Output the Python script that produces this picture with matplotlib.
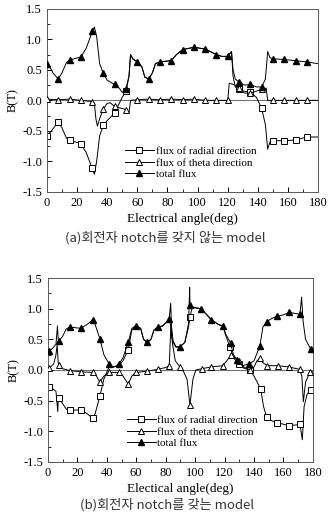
import matplotlib
matplotlib.use("Agg")
import matplotlib.pyplot as plt
import numpy as np

plt.rcParams['font.family'] = ['Liberation Serif', 'DejaVu Serif']
plt.rcParams['mathtext.fontset'] = 'stix'

# ---- (a) model without rotor notch ----
a_tot_x = [0, 2, 4, 7.5, 10, 13, 15, 22.5, 26, 29, 30, 31.5, 33, 35, 37.5, 40, 42, 45, 48, 50,
           52.5, 54.5, 55.5, 57, 60, 63, 65, 67.5, 70, 72, 75, 82.5, 86, 90, 97.5, 105, 110,
           112.5, 116, 120, 122.5, 123.5, 125, 127.5, 131, 135, 139, 142.5, 145, 146.5, 148,
           150, 157.5, 165, 172.5, 180]
a_tot_y = [0.60, 0.55, 0.45, 0.35, 0.45, 0.62, 0.66, 0.71, 0.85, 1.05, 1.13, 1.20, 1.05, 0.60,
           0.44, 0.33, 0.30, 0.26, 0.20, 0.13, 0.19, 0.40, 0.75, 0.68, 0.63, 0.55, 0.38, 0.35,
           0.45, 0.60, 0.63, 0.65, 0.75, 0.83, 0.87, 0.84, 0.78, 0.75, 0.72, 0.72, 0.80, 0.50,
           0.35, 0.30, 0.25, 0.26, 0.22, 0.22, 0.35, 0.80, 0.70, 0.68, 0.67, 0.65, 0.63, 0.60]
a_tot_mk = [0, 7.5, 15, 22.5, 30, 37.5, 45, 52.5, 60, 67.5, 75, 82.5, 90, 97.5, 105, 112.5,
            120, 127.5, 135, 142.5, 150, 157.5, 165, 172.5]

a_rad_x = [0, 3, 7.5, 10, 13, 15, 22.5, 26, 30, 31.5, 33, 35, 37.5, 40, 42.5, 45, 48, 50, 52.5,
           54.5, 55.5, 57, 60, 63, 65, 67.5, 70, 72, 75, 82.5, 86, 90, 97.5, 105, 110, 112.5,
           116, 120, 122.5, 123.5, 125, 127.5, 131, 135, 139, 142.5, 145, 146.5, 148, 150,
           157.5, 165, 172.5, 180]
a_rad_y = [-0.58, -0.50, -0.35, -0.45, -0.62, -0.65, -0.71, -0.85, -1.11, -1.21, -1.00, -0.58,
           -0.41, -0.33, -0.27, -0.20, -0.05, 0.05, 0.15, 0.40, 0.75, 0.68, 0.63, 0.55, 0.38,
           0.35, 0.45, 0.60, 0.63, 0.65, 0.75, 0.83, 0.87, 0.84, 0.78, 0.75, 0.72, 0.72, 0.80,
           0.40, 0.22, 0.18, 0.15, 0.13, 0.05, -0.13, -0.40, -0.80, -0.68, -0.66, -0.66, -0.65,
           -0.60, -0.60]
a_rad_mk = [0, 7.5, 15, 22.5, 30, 37.5, 45, 52.5, 127.5, 135, 142.5, 150, 157.5, 165, 172.5]

a_th_x = [0, 7.5, 15, 22.5, 30, 31.5, 32.5, 33.5, 35, 37.5, 40, 42, 45, 48, 52.5, 54.5, 55.5,
          60, 67.5, 75, 82.5, 90, 97.5, 105, 112.5, 120, 121, 124, 127.5, 131, 135, 139, 142.5,
          145.5, 146.5, 150, 157.5, 165, 172.5, 180]
a_th_y = [0.02, 0.01, 0.02, 0.00, -0.02, -0.05, -0.30, -0.42, -0.30, -0.14, -0.05, -0.04, -0.10,
          -0.12, -0.15, -0.20, 0.00, 0.01, 0.02, 0.01, 0.02, 0.01, 0.02, 0.00, 0.00, 0.00, 0.28,
          0.26, 0.20, 0.12, 0.12, 0.15, 0.18, 0.20, 0.00, 0.00, 0.00, 0.00, 0.00, 0.00]
a_th_mk = [0, 7.5, 15, 22.5, 30, 37.5, 45, 52.5, 60, 67.5, 75, 82.5, 90, 97.5, 105, 112.5,
           120, 127.5, 135, 142.5, 150, 157.5, 165, 172.5]

# ---- (b) model with rotor notch ----
b_tot_x = [0, 0.9, 3, 5.5, 6.5, 7, 7.5, 10, 12.5, 15, 22.5, 27, 30.4, 32, 35.3, 38, 41.6, 44,
           46, 48.4, 51, 54.6, 57, 59.8, 63, 65, 67.5, 70, 72, 74.5, 78, 82.4, 83.4, 84, 85, 87,
           89.7, 93, 95.5, 96.3, 96.5, 98, 104, 108, 111, 116, 119, 120.5, 124.1, 126, 128.6,
           132, 136.8, 140, 144, 146, 148.6, 152, 155.8, 160, 164, 171.2, 172.3, 173.3, 175,
           178.5, 180]
b_tot_y = [0.28, 0.31, 0.35, 0.42, 0.72, 0.50, 0.47, 0.55, 0.67, 0.70, 0.68, 0.75, 0.82, 0.75,
           0.51, 0.25, 0.10, 0.05, 0.06, 0.10, 0.20, 0.45, 0.68, 0.72, 0.68, 0.50, 0.45, 0.50,
           0.65, 0.70, 0.72, 0.83, 1.09, 0.70, 0.48, 0.38, 0.38, 0.45, 0.75, 1.35, 1.06, 1.03,
           1.00, 0.90, 0.82, 0.74, 0.72, 0.60, 0.44, 0.25, 0.16, 0.07, 0.10, 0.15, 0.39, 0.70,
           0.79, 0.84, 0.88, 0.90, 0.94, 0.91, 1.19, 0.80, 0.50, 0.34, 0.33]
b_tot_mk = [0.9, 7.5, 15, 22.5, 30.4, 35.3, 41.6, 48.4, 54.6, 59.8, 67.5, 74.5, 82.4, 89.7,
            96.5, 104, 111, 119, 124.1, 128.6, 136.8, 144, 148.6, 155.8, 164, 171.2, 178.5]

b_rad_x = [0, 0.9, 3, 5.5, 6.7, 7, 7.5, 10, 12.5, 15, 22.5, 27, 30.4, 32, 35.3, 38, 41.6, 44,
           46, 48.4, 51, 54.6, 57, 59.8, 63, 65, 67.5, 70, 72, 74.5, 78, 82.4, 83.4, 84, 85, 87,
           89.7, 93, 95.5, 96.5, 98, 104, 108, 111, 116, 119, 120.5, 123.6, 126, 129.8, 133,
           137.2, 140, 144.5, 146.5, 148.6, 152, 155.8, 163.8, 171.2, 172.8, 174, 176, 178.5, 180]
b_rad_y = [-0.26, -0.27, -0.30, -0.35, -0.68, -0.50, -0.46, -0.55, -0.64, -0.66, -0.65, -0.72,
           -0.79, -0.72, -0.43, -0.15, 0.05, 0.04, 0.06, 0.08, 0.15, 0.33, 0.65, 0.72, 0.68,
           0.50, 0.45, 0.50, 0.65, 0.70, 0.72, 0.82, 0.75, 0.55, 0.45, 0.37, 0.38, 0.45, 0.70,
           0.87, 1.02, 1.00, 0.90, 0.82, 0.74, 0.72, 0.58, 0.38, 0.20, 0.09, 0.03, 0.00, -0.10,
           -0.31, -0.60, -0.77, -0.83, -0.86, -0.91, -0.89, -1.14, -0.60, -0.40, -0.32, -0.30]
b_rad_mk = [0.9, 7.5, 15, 22.5, 30.4, 35.3, 54.6, 96.5, 123.6, 129.8, 137.2, 144.5, 148.6,
            155.8, 163.8, 171.2, 178.5]

b_th_x = [0, 0.9, 4, 5.5, 6.3, 7, 7.5, 10, 15, 22.5, 30.4, 33, 35.3, 38, 41.6, 48.4, 51, 54.6,
          57, 59.8, 67.5, 74.5, 80, 82.4, 83.6, 84.5, 86.5, 89.7, 92, 94.5, 96.5, 98.5, 100.5,
          104.4, 111, 118.8, 121.5, 124.3, 127, 129.8, 133, 137.2, 140, 142, 144, 146, 149, 156,
          163.6, 171, 172.5, 173.5, 175, 178, 180]
b_th_y = [0.02, 0.03, 0.10, 0.25, 0.41, 0.12, 0.08, 0.02, -0.01, -0.03, -0.04, -0.10, -0.20,
          -0.10, -0.04, -0.04, -0.10, -0.23, -0.10, -0.04, -0.02, 0.01, 0.04, 0.07, 0.75, 0.45,
          0.15, 0.05, -0.02, -0.15, -0.57, -0.15, 0.00, 0.02, 0.05, 0.07, 0.15, 0.24, 0.20,
          0.14, 0.05, 0.00, 0.05, 0.15, 0.19, 0.12, 0.07, 0.07, 0.05, 0.01, -0.10, -0.52, -0.20,
          -0.03, -0.03]
b_th_mk = [0.9, 7.5, 15, 22.5, 30.4, 35.3, 41.6, 48.4, 54.6, 59.8, 67.5, 74.5, 82.4, 89.7,
           96.5, 104.4, 111, 118.8, 124.3, 129.8, 137.2, 144, 149, 156, 163.6, 171, 178]

labels = ['flux of radial direction', 'flux of theta direction', 'total flux']


def idx(xs, marks):
    """Return indices of xs that carry a marker."""
    return [i for i, v in enumerate(xs) if v in marks]


def draw(ax, rad, th, tot, xlabel, legpos):
    ax.axhline(0, color='0.45', lw=0.8, zorder=1)
    ax.plot(rad[0], rad[1], '-s', color='k', lw=0.7, ms=4.2, mfc='white', mec='k', mew=0.7,
            markevery=idx(rad[0], rad[2]), label=labels[0], zorder=2)
    ax.plot(th[0], th[1], '-^', color='k', lw=0.7, ms=4.8, mfc='white', mec='k', mew=0.7,
            markevery=idx(th[0], th[2]), label=labels[1], zorder=3)
    ax.plot(tot[0], tot[1], '-^', color='k', lw=0.7, ms=4.8, mfc='k', mec='k',
            markevery=idx(tot[0], tot[2]), label=labels[2], zorder=4)
    ax.set_xlim(0, 180)
    ax.set_ylim(-1.5, 1.5)
    ax.set_xticks(np.arange(0, 181, 20))
    ax.set_yticks([-1.5, -1.0, -0.5, 0.0, 0.5, 1.0, 1.5])
    ax.set_yticklabels(['-1.5', '-1.0', '-0.5', '0.0', '0.5', '1.0', '1.5'])
    ax.set_xticks(np.arange(0, 181, 10), minor=True)
    ax.set_yticks(np.arange(-1.5, 1.51, 0.25), minor=True)
    ax.tick_params(which='both', direction='in', top=False, right=False, labelsize=9)
    ax.tick_params(which='major', length=3.5, width=0.7)
    ax.tick_params(which='minor', length=2, width=0.6)
    for s in ax.spines.values():
        s.set_linewidth(0.7)
        s.set_color('0.35')
    ax.set_xlabel(xlabel, fontsize=9.5, labelpad=3)
    ax.set_ylabel('B(T)', fontsize=9, labelpad=2)
    ax.legend(loc='upper left', bbox_to_anchor=legpos, bbox_transform=fig.transFigure,
              frameon=False, fontsize=8, handlelength=2.6, handletextpad=0.15,
              labelspacing=0.15, borderpad=0, borderaxespad=0)


fig = plt.figure(figsize=(3.28, 5.16), dpi=100)
ax1 = fig.add_axes([0.143, 0.628, 0.827, 0.355])
ax2 = fig.add_axes([0.146, 0.105, 0.808, 0.356])

draw(ax1, (a_rad_x, a_rad_y, a_rad_mk), (a_th_x, a_th_y, a_th_mk), (a_tot_x, a_tot_y, a_tot_mk),
     'Electrical angle(deg)', (0.381, 0.716))
draw(ax2, (b_rad_x, b_rad_y, b_rad_mk), (b_th_x, b_th_y, b_th_mk), (b_tot_x, b_tot_y, b_tot_mk),
     'Electical angle(deg)', (0.387, 0.195))

kfont = ['Noto Sans CJK KR', 'DejaVu Sans']
fig.text(0.505, 1 - 238 / 516, '(a)회전자 notch를 갖지 않는 model', ha='center', va='center',
         fontsize=9.5, family=kfont, color='0.2')
fig.text(0.51, 1 - 505 / 516, '(b)회전자 notch를 갖는 model', ha='center', va='center',
         fontsize=9.5, family=kfont, color='0.2')

fig.savefig('out.png', dpi=100)
